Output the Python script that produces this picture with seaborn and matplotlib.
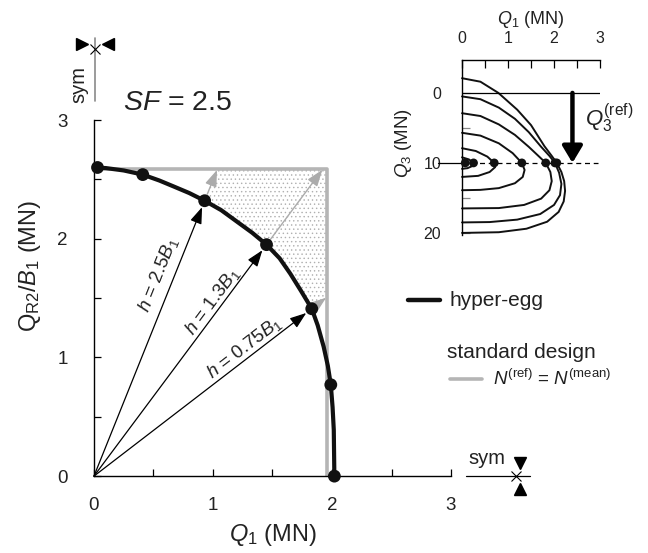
import numpy as np
import pandas as pd
import matplotlib.pyplot as plt
import seaborn as sns

sns.set_theme(style="white")
plt.rcParams['font.family'] = ['Liberation Sans', 'DejaVu Sans']
plt.rcParams['mathtext.fontset'] = 'custom'
plt.rcParams['mathtext.rm'] = 'Liberation Sans'
plt.rcParams['mathtext.it'] = 'Liberation Sans:italic'
plt.rcParams['hatch.linewidth'] = 0.5

# hyper-egg curve (Q1, QR2/B1)
egg_q1 = [0.0, 0.10, 0.25, 0.41, 0.55, 0.67, 0.80, 0.93, 1.07, 1.20, 1.33, 1.45,
          1.56, 1.65, 1.74, 1.83, 1.88, 1.93, 1.965, 1.99, 2.005, 2.015, 2.02]
egg_q2 = [2.60, 2.595, 2.575, 2.54, 2.49, 2.44, 2.385, 2.32, 2.24, 2.145, 2.05, 1.95,
          1.835, 1.705, 1.56, 1.41, 1.27, 1.09, 0.93, 0.77, 0.58, 0.39, 0.0]

# dots on the curve
dot_q1 = [0.03, 0.41, 0.93, 1.45, 1.83, 1.99, 2.02]
dot_q2 = [2.60, 2.54, 2.32, 1.95, 1.41, 0.77, 0.00]

# standard design N(ref) = N(mean)
std_q1 = 1.96
std_q2 = 2.59

# rays from origin through three of the dots
ray_idx = [2, 3, 4]
ray_labels = ["$h$ = 2.5$B_1$", "$h$ = 1.3$B_1$", "$h$ = 0.75$B_1$"]
ray_label_pos = [(0.54, 1.70), (1.00, 1.47), (1.26, 1.08)]

# inset: Q1 vs Q3 curves
inset_curves = {
    "A": ([0, 0.4, 0.79, 1.2, 1.5, 1.79, 1.95, 2.06, 2.16, 2.22, 2.24, 2.21, 2.1, 1.85, 1.4, 0.8, 0],
          [-2.1, -1.6, 0, 2.4, 4.6, 7.6, 9.0, 10, 11.3, 12.6, 14.0, 15.5, 17.0, 18.4, 19.4, 19.9, 20.0]),
    "B": ([0, 0.4, 0.8, 1.15, 1.45, 1.72, 1.9, 2.02, 2.11, 2.16, 2.13, 2.0, 1.7, 1.2, 0.6, 0],
          [0.5, 0.9, 2.1, 3.7, 5.6, 7.7, 9.0, 10, 11.4, 13.0, 14.6, 16.0, 17.3, 18.1, 18.45, 18.5]),
    "C": ([0, 0.4, 0.8, 1.15, 1.45, 1.66, 1.82, 1.92, 1.95, 1.9, 1.72, 1.35, 0.8, 0],
          [2.9, 3.3, 4.5, 6.0, 7.7, 9.0, 10, 11.3, 12.6, 13.9, 15.1, 16.0, 16.45, 16.5]),
    "D": ([0, 0.4, 0.8, 1.1, 1.3, 1.36, 1.32, 1.15, 0.8, 0.4, 0],
          [5.7, 6.1, 7.2, 8.6, 10, 11.0, 12.0, 12.9, 13.6, 13.85, 13.9]),
    "E": ([0, 0.3, 0.55, 0.7, 0.72, 0.6, 0.35, 0],
          [7.9, 8.3, 9.1, 10, 10.6, 11.3, 11.85, 12.0]),
    "F": ([0, 0.15, 0.25, 0.24, 0.12, 0],
          [9.2, 9.5, 10, 10.4, 10.75, 10.85]),
}
inset_dot_q1 = [0.07, 0.25, 0.70, 1.30, 1.82, 2.02, 2.06]
q3_ref = 10
q3_arrow_q1 = 2.4

fig = plt.figure(figsize=(6.48, 5.53), dpi=100)

# ---------------- main panel ----------------
ax = fig.add_axes([0.145, 0.139, 0.551, 0.644])

# stippled area between curve and standard design
r1 = ray_idx[0]
r3 = ray_idx[-1]
t1 = min(std_q1 / dot_q1[r1], std_q2 / dot_q2[r1])
t3 = min(std_q1 / dot_q1[r3], std_q2 / dot_q2[r3])
seg = [(x, y) for x, y in zip(egg_q1, egg_q2) if dot_q1[r1] < x < dot_q1[r3]]
poly_x = [dot_q1[r1], t1 * dot_q1[r1], std_q1, std_q1, dot_q1[r3]] + [p[0] for p in seg[::-1]]
poly_y = [dot_q2[r1], t1 * dot_q2[r1], std_q2, t3 * dot_q2[r3], dot_q2[r3]] + [p[1] for p in seg[::-1]]
ax.fill(poly_x, poly_y, facecolor='white', edgecolor='#b0b0b0', hatch='....', lw=0, zorder=1)

# standard design
sns.lineplot(x=[0, std_q1, std_q1], y=[std_q2, std_q2, 0], sort=False, estimator=None,
             color='#b5b5b5', lw=2.6, ax=ax, zorder=2)

# rays
for i, lab, pos in zip(ray_idx, ray_labels, ray_label_pos):
    px, py = dot_q1[i], dot_q2[i]
    ax.annotate('', xy=(px, py), xytext=(0, 0), zorder=3,
                arrowprops=dict(arrowstyle='-|>,head_length=0.5,head_width=0.18',
                                mutation_scale=20, color='black', lw=0.9,
                                shrinkA=0, shrinkB=5))
    t = min(std_q1 / px, std_q2 / py)
    ax.annotate('', xy=(t * px, t * py), xytext=(px, py), zorder=3,
                arrowprops=dict(arrowstyle='-|>,head_length=0.5,head_width=0.18',
                                mutation_scale=20, color='#ababab', lw=1.0,
                                shrinkA=5, shrinkB=1))
    ang = np.degrees(np.arctan2(py, px))
    ax.text(pos[0], pos[1], lab, rotation=ang, rotation_mode='anchor',
            ha='center', va='center', fontsize=13.5, color='#222222')

# hyper-egg
sns.lineplot(x=egg_q1, y=egg_q2, sort=False, estimator=None, color='#111111',
             lw=3, ax=ax, zorder=4)
sns.scatterplot(x=dot_q1, y=dot_q2, color='#111111', s=85, edgecolor='none',
                ax=ax, zorder=5, clip_on=False)

ax.set_xlim(0, 3)
ax.set_ylim(0, 3)
sns.despine(ax=ax)
for s in ['left', 'bottom']:
    ax.spines[s].set_color('black')
    ax.spines[s].set_linewidth(1)
ax.set_xticks([0, 1, 2, 3])
ax.set_yticks([0, 1, 2, 3])
ax.set_xticks([0.5, 1.5, 2.5], minor=True)
ax.set_yticks([0.5, 1.5, 2.5], minor=True)
ax.tick_params(which='both', direction='in', length=5, width=0.9, color='black',
               bottom=True, left=True)
ax.tick_params(axis='x', labelsize=13.5, pad=15, labelcolor='#222222')
ax.tick_params(axis='y', labelsize=13.5, pad=19, labelcolor='#222222')
ax.set_xlabel('$Q_1$ (MN)', fontsize=17, color='#222222')
ax.xaxis.set_label_coords(0.5, -0.128)
ax.text(-0.179, 0.59, r'$\mathrm{Q}_{\mathrm{R2}}/B_1$ (MN)', transform=ax.transAxes,
        rotation=90, ha='center', va='center', fontsize=17, color='#222222')

ax.text(0.245, 3.14, '$SF$ = 2.5', fontsize=20.5, ha='left', va='center', color='#222222')

# symmetry markers
ax.plot([0.008, 0.008], [3.16, 3.69], color='#8a8a8a', lw=1.2, clip_on=False)
ax.plot([0.008], [3.60], marker='x', ms=7, mew=0.8, color='black', clip_on=False)
ax.plot([-0.10], [3.64], marker='>', ms=9, color='black', clip_on=False)
ax.plot([0.12], [3.64], marker='<', ms=9, color='black', clip_on=False)
ax.text(-0.13, 3.30, 'sym', rotation=90, ha='center', va='center', fontsize=14.5, color='#222222')

ax.plot([3.13, 3.66], [0, 0], color='black', lw=0.9, clip_on=False)
ax.plot([3.55], [0], marker='x', ms=7, mew=0.8, color='black', clip_on=False)
ax.plot([3.58], [0.11], marker='v', ms=9, color='black', clip_on=False)
ax.plot([3.58], [-0.11], marker='^', ms=9, color='black', clip_on=False)
ax.text(3.30, 0.15, 'sym', ha='center', va='center', fontsize=14.5, color='#222222')

# legend
ax.plot([2.64, 2.91], [1.48, 1.48], color='#111111', lw=3.2, clip_on=False)
ax.text(2.99, 1.48, 'hyper-egg', ha='left', va='center', fontsize=15, color='#222222')
ax.text(2.97, 1.04, 'standard design', ha='left', va='center', fontsize=15, color='#222222')
ax.plot([2.99, 3.26], [0.815, 0.815], color='#b5b5b5', lw=2.6, clip_on=False)
ax.text(3.35, 0.82, r'$N^{\mathrm{(ref)}}$ = $N^{\mathrm{(mean)}}$', ha='left', va='center',
        fontsize=13.5, color='#222222')

# ---------------- inset ----------------
ax2 = fig.add_axes([0.713, 0.575, 0.213, 0.3165])
rows = []
for name, (xs, ys) in inset_curves.items():
    for x, y in zip(xs, ys):
        rows.append({'curve': name, 'Q1': x, 'Q3': y})
inset_df = pd.DataFrame(rows)
sns.lineplot(data=inset_df, x='Q1', y='Q3', units='curve', estimator=None, sort=False,
             color='#111111', lw=1.4, ax=ax2, clip_on=False)
ax2.plot([0, 3], [0, 0], color='black', lw=0.9)
ax2.plot([0, 2.96], [q3_ref, q3_ref], color='black', lw=0.9, dashes=(4, 3))
ax2.plot([-0.52, 0], [q3_ref, q3_ref], color='black', lw=0.9, clip_on=False)
sns.scatterplot(x=inset_dot_q1, y=[q3_ref] * len(inset_dot_q1), color='#111111', s=40,
                edgecolor='none', ax=ax2, zorder=5, clip_on=False)
ax2.annotate('', xy=(q3_arrow_q1, q3_ref), xytext=(q3_arrow_q1, 0),
             arrowprops=dict(arrowstyle='-|>,head_length=0.5,head_width=0.3',
                             mutation_scale=20, color='black', lw=3.2,
                             shrinkA=0, shrinkB=0))
ax2.text(2.67, 3.6, r'$Q_3^{\mathrm{(ref)}}$', ha='left', va='center', fontsize=16, color='#222222')

ax2.set_xlim(0, 3)
ax2.set_ylim(20.3, -4.7)
for s in ['right', 'bottom']:
    ax2.spines[s].set_visible(False)
for s in ['left', 'top']:
    ax2.spines[s].set_color('black')
    ax2.spines[s].set_linewidth(1)
ax2.xaxis.tick_top()
ax2.xaxis.set_label_position('top')
ax2.set_xticks([0, 1, 2, 3])
ax2.set_xticks([0.5, 1.5, 2.5], minor=True)
ax2.set_yticks([0, 10, 20])
ax2.set_yticks([5, 15], minor=True)
ax2.tick_params(axis='x', which='both', direction='in', length=6, width=0.9, color='black',
                top=True, bottom=False, labelsize=11.5, pad=10, labelcolor='#222222')
ax2.tick_params(axis='y', which='both', direction='in', length=6, width=0.9, color='#888888',
                left=True, labelsize=11.5, pad=15, labelcolor='#222222')
ax2.set_xlabel('$Q_1$ (MN)', fontsize=13, color='#222222', labelpad=5)
ax2.set_ylabel('')
ax2.text(-1.28, 7.1, '$Q_3$ (MN)', rotation=90, ha='center', va='center',
         fontsize=13.5, color='#222222')

fig.savefig('out.png', dpi=100)
